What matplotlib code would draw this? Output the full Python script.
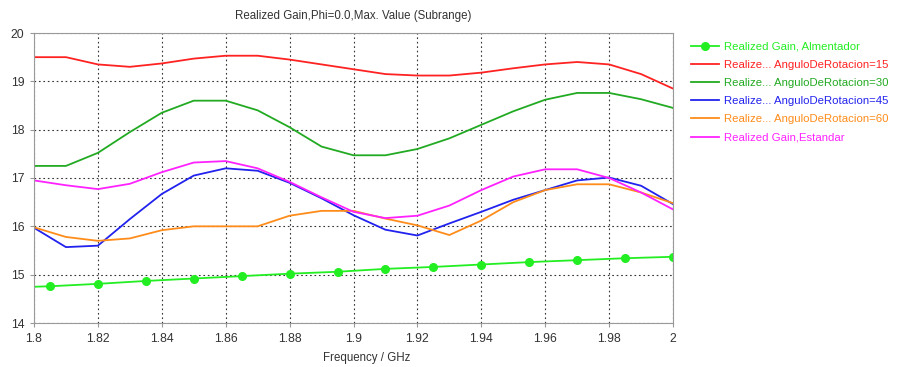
import matplotlib
matplotlib.use("Agg")
import matplotlib.pyplot as plt
import numpy as np

freq = [1.80, 1.81, 1.82, 1.83, 1.84, 1.85, 1.86, 1.87, 1.88, 1.89, 1.90,
        1.91, 1.92, 1.93, 1.94, 1.95, 1.96, 1.97, 1.98, 1.99, 2.00]

rot15 = [19.50, 19.50, 19.35, 19.30, 19.37, 19.47, 19.53, 19.53, 19.45, 19.35, 19.25,
         19.15, 19.12, 19.12, 19.18, 19.27, 19.35, 19.40, 19.35, 19.15, 18.85]
rot30 = [17.25, 17.25, 17.52, 17.95, 18.35, 18.60, 18.60, 18.40, 18.05, 17.65, 17.47,
         17.47, 17.60, 17.82, 18.10, 18.38, 18.62, 18.76, 18.76, 18.63, 18.45]
rot45 = [15.97, 15.57, 15.60, 16.15, 16.67, 17.05, 17.20, 17.15, 16.90, 16.58, 16.23,
         15.93, 15.81, 16.06, 16.30, 16.55, 16.75, 16.95, 17.01, 16.84, 16.46]
rot60 = [15.98, 15.78, 15.70, 15.75, 15.92, 16.00, 16.00, 16.00, 16.22, 16.32, 16.32,
         16.16, 16.02, 15.82, 16.12, 16.50, 16.75, 16.87, 16.87, 16.70, 16.48]
estandar = [16.95, 16.85, 16.77, 16.88, 17.12, 17.32, 17.35, 17.20, 16.92, 16.60, 16.30,
            16.17, 16.22, 16.43, 16.75, 17.03, 17.18, 17.18, 17.00, 16.70, 16.35]

alim_x = [1.800, 1.805, 1.820, 1.835, 1.850, 1.865, 1.880, 1.895, 1.910, 1.925,
          1.940, 1.955, 1.970, 1.985, 2.000]
alim_y = [14.75, 14.76, 14.81, 14.87, 14.92, 14.97, 15.02, 15.06, 15.12, 15.16,
          15.21, 15.26, 15.30, 15.34, 15.37]

labels = ["Realized Gain, Almentador",
          "Realize... AnguloDeRotacion=15",
          "Realize... AnguloDeRotacion=30",
          "Realize... AnguloDeRotacion=45",
          "Realize... AnguloDeRotacion=60",
          "Realized Gain,Estandar"]
colors = ["#22ee22", "#ff2222", "#22aa22", "#2222ee", "#ff8c1a", "#ff22ff"]

xticks = [1.8, 1.82, 1.84, 1.86, 1.88, 1.9, 1.92, 1.94, 1.96, 1.98, 2.0]
xticklabels = ["1.8", "1.82", "1.84", "1.86", "1.88", "1.9", "1.92", "1.94", "1.96", "1.98", "2"]
yticks = [14, 15, 16, 17, 18, 19, 20]

plt.rcParams['font.family'] = ['Liberation Sans', 'DejaVu Sans']
FS = 8.3
fig = plt.figure(figsize=(8.99, 3.67), dpi=100)
ax = fig.add_axes([34/899, 1 - 323/367, (673-34)/899, (323-33)/367])

handles = []
h, = ax.plot(alim_x, alim_y, color=colors[0], lw=1.3, marker='o', ms=5.5,
             markevery=list(range(1, len(alim_x))))
handles.append(h)
for ys, c in zip([rot15, rot30, rot45, rot60, estandar], colors[1:]):
    h, = ax.plot(freq, ys, color=c, lw=1.3)
    handles.append(h)

ax.set_xlim(1.8, 2.0)
ax.set_ylim(14, 20)
ax.set_xticks(xticks)
ax.set_xticklabels(xticklabels)
ax.set_yticks(yticks)
ax.grid(True, color='#333333', linestyle=(0, (1.5, 2.5)), lw=0.8)
for s in ax.spines.values():
    s.set_color('#999999')
ax.tick_params(labelsize=FS + 0.5, colors='#333333', length=3, color='#999999', pad=4)
ax.set_xlabel("Frequency / GHz", fontsize=FS, color='#333333')
ax.xaxis.set_label_coords(0.52, -0.10)
ax.set_title("Realized Gain,Phi=0.0,Max. Value (Subrange)", fontsize=FS, color='#333333', pad=10)

leg = fig.legend(handles, labels, loc='upper left', bbox_to_anchor=(686/899, 1 - 37/367),
                 frameon=False, fontsize=8.2, handlelength=2.5, labelspacing=0.72,
                 handletextpad=0.42, borderaxespad=0)
for t, c in zip(leg.get_texts(), colors):
    t.set_color(c)

fig.savefig("out.png", dpi=100)
